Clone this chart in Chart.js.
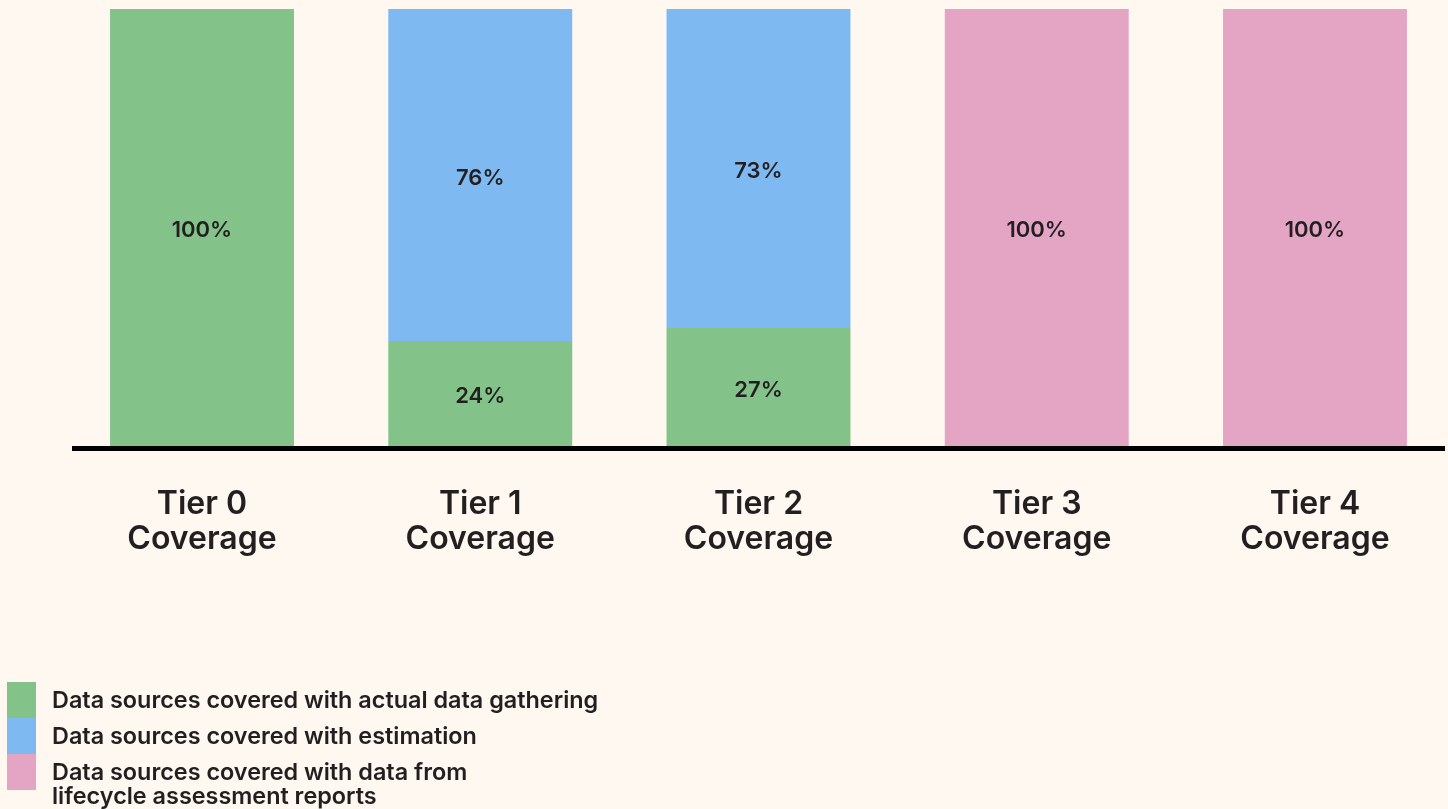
<!DOCTYPE html>
<html>
<head>
<meta charset="utf-8">
<script src="https://cdn.jsdelivr.net/npm/chart.js@4/dist/chart.umd.min.js"></script>
<style>
  html, body { margin: 0; padding: 0; background: #fef8f1; overflow: hidden; }
  #wrap { position: relative; width: 1448px; height: 809px; }
  #c { position: absolute; left: 0; top: 0; }
  .legend { position: absolute; left: 0; top: 682px; font-family: Inter, "Liberation Sans", sans-serif; font-weight: 600; font-size: 23.4px; color: #231f20; }
  .item { position: relative; height: 36px; }
  .sw { position: absolute; left: 7px; top: 0; width: 29px; height: 36px; }
  .lbl { position: absolute; left: 52px; top: 6px; line-height: 24px; white-space: nowrap; }
</style>
</head>
<body>
<div id="wrap">
  <canvas id="c" width="1448" height="809"></canvas>
  <div class="legend" id="legend"></div>
</div>
<script>
// Tiers along the x axis (two-line labels)
const categories = [
  ['Tier 0', 'Coverage'],
  ['Tier 1', 'Coverage'],
  ['Tier 2', 'Coverage'],
  ['Tier 3', 'Coverage'],
  ['Tier 4', 'Coverage']
];
// Share of data sources per tier, in percent
const actualData = [100, 24, 27, 0, 0];
const estimation = [0, 76, 73, 0, 0];
const lcaReports = [0, 0, 0, 100, 100];

const seriesNames = [
  'Data sources covered with actual data gathering',
  'Data sources covered with estimation',
  'Data sources covered with data from\nlifecycle assessment reports'
];
const seriesColors = ['#83c38a', '#7ebaf1', '#e4a5c5'];

const FONT = 'Inter, "Liberation Sans", sans-serif';
const INK = '#231f20';

// Percent labels centred in each segment, plus the heavy baseline
const segmentLabels = {
  id: 'segmentLabels',
  afterDatasetsDraw(chart) {
    const ctx = chart.ctx;
    ctx.save();
    ctx.fillStyle = INK;
    ctx.font = '600 22px ' + FONT;
    ctx.textAlign = 'center';
    ctx.textBaseline = 'middle';
    chart.data.datasets.forEach((ds, di) => {
      const meta = chart.getDatasetMeta(di);
      meta.data.forEach((bar, i) => {
        const v = ds.data[i];
        if (!v) return;
        const y = (bar.y + bar.base) / 2 + 3;
        ctx.fillText(v + '%', bar.x, y);
      });
    });
    // baseline
    const yBase = chart.scales.y.getPixelForValue(0);
    ctx.strokeStyle = '#000';
    ctx.lineWidth = 5;
    ctx.beginPath();
    ctx.moveTo(72, yBase + 2.5);
    ctx.lineTo(1445, yBase + 2.5);
    ctx.stroke();
    ctx.restore();
  }
};

new Chart(document.getElementById('c'), {
  type: 'bar',
  data: {
    labels: categories,
    datasets: [
      { label: seriesNames[0], data: actualData, backgroundColor: seriesColors[0] },
      { label: seriesNames[1], data: estimation, backgroundColor: seriesColors[1] },
      { label: seriesNames[2], data: lcaReports, backgroundColor: seriesColors[2] }
    ]
  },
  options: {
    responsive: false,
    animation: false,
    devicePixelRatio: 1,
    layout: { padding: { left: 202, right: 133, top: 9, bottom: 223 } },
    datasets: { bar: { barPercentage: 1, categoryPercentage: 0.661, clip: false, borderWidth: 0 } },
    plugins: { legend: { display: false }, tooltip: { enabled: false } },
    scales: {
      x: {
        stacked: true,
        offset: false,
        grid: { display: false },
        border: { display: false },
        afterFit(scale) { scale.height = 140; },
        ticks: {
          color: INK,
          padding: 33,
          maxRotation: 0,
          autoSkip: false,
          font: { family: FONT, size: 32, weight: '600', lineHeight: 1.1 }
        }
      },
      y: {
        stacked: true,
        display: false,
        min: 0,
        max: 100
      }
    }
  },
  plugins: [segmentLabels]
});

// Legend: colour swatches stacked edge to edge
const legend = document.getElementById('legend');
seriesNames.forEach((name, i) => {
  const item = document.createElement('div');
  item.className = 'item';
  const sw = document.createElement('div');
  sw.className = 'sw';
  sw.style.background = seriesColors[i];
  const lbl = document.createElement('div');
  lbl.className = 'lbl';
  lbl.innerHTML = name.split('\n').map(s => s.replace(/&/g, '&amp;')).join('<br>');
  item.appendChild(sw);
  item.appendChild(lbl);
  legend.appendChild(item);
});
</script>
</body>
</html>
